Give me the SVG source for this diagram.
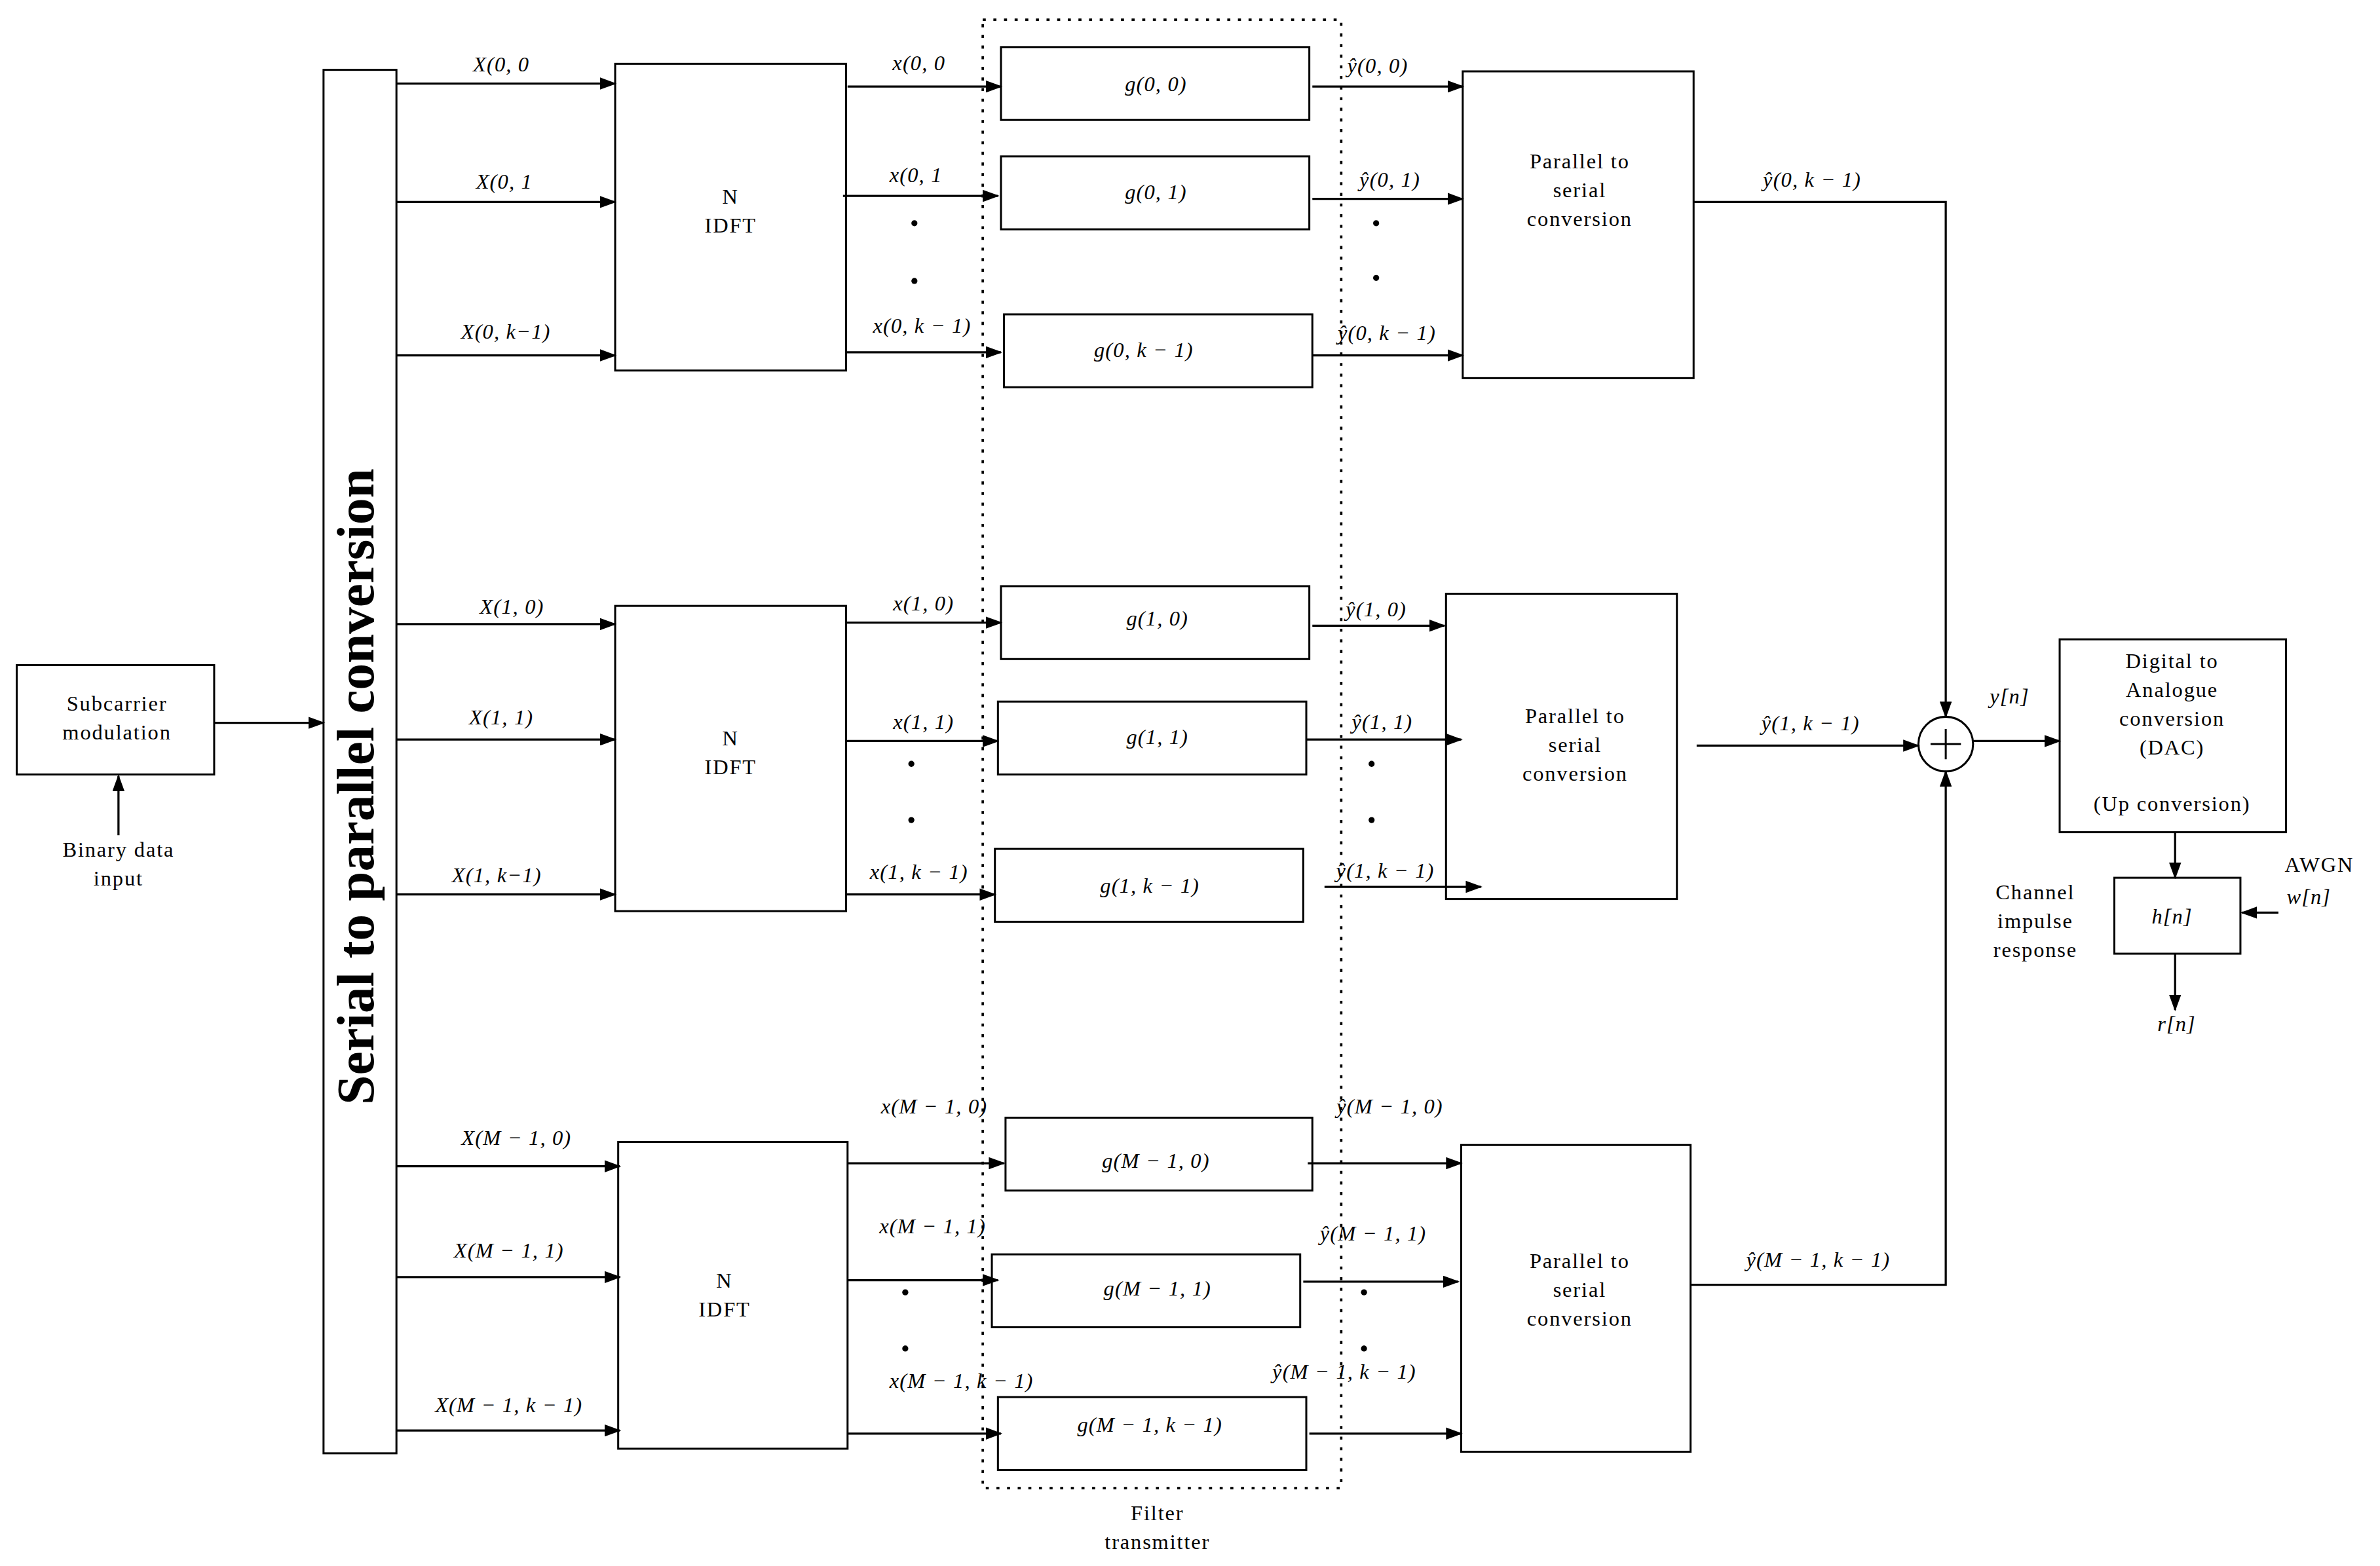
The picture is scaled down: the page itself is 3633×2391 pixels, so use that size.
<svg xmlns="http://www.w3.org/2000/svg" width="3633" height="2391" viewBox="0 0 3633 2391">
<style>
.b{fill:none;stroke:#000;stroke-width:1.3}
.c{fill:none;stroke:#000;stroke-width:1.4}
text{font-family:"Liberation Serif","DejaVu Serif",serif;fill:#000;text-anchor:middle}
.t{font-size:14px;letter-spacing:0.8px}
.m{font-size:14px;font-style:italic;letter-spacing:0.5px}
.d{fill:#000}
</style>
<defs>
<marker id="a" markerUnits="userSpaceOnUse" markerWidth="11" markerHeight="8" refX="10" refY="4" orient="auto"><path d="M0,0 L11,4 L0,8 Z" fill="#000"/></marker>
</defs>
<rect width="3633" height="2391" fill="#fff"/>
<g transform="scale(2.3186)">
<g id="subcarrier"><rect class="b" x="11" y="438" width="130" height="72"/><text class="t" x="77" y="468">Subcarrier</text><text class="t" x="77" y="487">modulation</text></g>
<g id="binary"><text class="t" x="78" y="564">Binary data</text><text class="t" x="78" y="583">input</text></g>
<g id="s2p"><rect class="b" x="213" y="46" width="48" height="911"/><text transform="translate(246,518) rotate(-90)" style="font-size:35px;font-weight:bold">Serial to parallel conversion</text></g>
<g id="idft0"><rect class="b" x="405" y="42" width="152" height="202"/><text class="t" x="481" y="134">N</text><text class="t" x="481" y="153">IDFT</text></g>
<g id="idft1"><rect class="b" x="405" y="399" width="152" height="201"/><text class="t" x="481" y="491">N</text><text class="t" x="481" y="510">IDFT</text></g>
<g id="idft2"><rect class="b" x="407" y="752" width="151" height="202"/><text class="t" x="477" y="848">N</text><text class="t" x="477" y="867">IDFT</text></g>
<g id="filterbank"><rect x="647" y="13" width="236" height="967" fill="none" stroke="#000" stroke-width="1.6" stroke-dasharray="2,5"/><text class="t" x="762" y="1001">Filter</text><text class="t" x="762" y="1020">transmitter</text></g>
<g id="g00"><rect class="b" x="659" y="31" width="203" height="48"/><text class="m" x="761" y="60">g(0, 0)</text></g>
<g id="g01"><rect class="b" x="659" y="103" width="203" height="48"/><text class="m" x="761" y="131">g(0, 1)</text></g>
<g id="g0k"><rect class="b" x="661" y="207" width="203" height="48"/><text class="m" x="753" y="235">g(0, k − 1)</text></g>
<g id="g10"><rect class="b" x="659" y="386" width="203" height="48"/><text class="m" x="762" y="412">g(1, 0)</text></g>
<g id="g11"><rect class="b" x="657" y="462" width="203" height="48"/><text class="m" x="762" y="490">g(1, 1)</text></g>
<g id="g1k"><rect class="b" x="655" y="559" width="203" height="48"/><text class="m" x="757" y="588">g(1, k − 1)</text></g>
<g id="gM0"><rect class="b" x="662" y="736" width="202" height="48"/><text class="m" x="761" y="769">g(M − 1, 0)</text></g>
<g id="gM1"><rect class="b" x="653" y="826" width="203" height="48"/><text class="m" x="762" y="853">g(M − 1, 1)</text></g>
<g id="gMk"><rect class="b" x="657" y="920" width="203" height="48"/><text class="m" x="757" y="943">g(M − 1, k − 1)</text></g>
<g id="p2s0"><rect class="b" x="963" y="47" width="152" height="202"/><text class="t" x="1040" y="111">Parallel to</text><text class="t" x="1040" y="130">serial</text><text class="t" x="1040" y="149">conversion</text></g>
<g id="p2s1"><rect class="b" x="952" y="391" width="152" height="201"/><text class="t" x="1037" y="476">Parallel to</text><text class="t" x="1037" y="495">serial</text><text class="t" x="1037" y="514">conversion</text></g>
<g id="p2s2"><rect class="b" x="962" y="754" width="151" height="202"/><text class="t" x="1040" y="835">Parallel to</text><text class="t" x="1040" y="854">serial</text><text class="t" x="1040" y="873">conversion</text></g>
<g id="sum"><circle class="b" cx="1281" cy="490" r="18"/><path class="b" d="M1281,480V500M1271,490H1291"/></g>
<g id="dac"><rect class="b" x="1356" y="421" width="149" height="127"/><text class="t" x="1430" y="440">Digital to</text><text class="t" x="1430" y="459">Analogue</text><text class="t" x="1430" y="478">conversion</text><text class="t" x="1430" y="497">(DAC)</text><text class="t" x="1430" y="534">(Up conversion)</text></g>
<g id="channel"><rect class="b" x="1392" y="578" width="83" height="50"/><text class="m" x="1430" y="608">h[n]</text><text class="t" x="1340" y="592">Channel</text><text class="t" x="1340" y="611">impulse</text><text class="t" x="1340" y="630">response</text></g>
<g id="awgn"><text class="t" x="1527" y="574">AWGN</text><text class="m" x="1520" y="595">w[n]</text></g>
<g id="out"><text class="m" x="1433" y="679">r[n]</text></g>
<g id="connectors" class="c" marker-end="url(#a)">
<path d="M78,550V511"/>
<path d="M141,476H213"/>
<path d="M261,55H405"/><path d="M261,133H405"/><path d="M261,234H405"/><path d="M261,411H405"/><path d="M261,487H405"/><path d="M261,589H405"/><path d="M261,768H408"/><path d="M261,841H408"/><path d="M261,942H408"/>
<path d="M558,57H659"/><path d="M555,129H657"/><path d="M557,232H659"/><path d="M557,410H659"/><path d="M557,488H657"/><path d="M557,589H655"/><path d="M558,766H661"/><path d="M558,843H657"/><path d="M558,944H659"/>
<path d="M864,57H963"/><path d="M864,131H963"/><path d="M864,234H963"/><path d="M864,412H951"/><path d="M860,487H962"/><path d="M872,584H975"/><path d="M861,766H962"/><path d="M858,844H960"/><path d="M862,944H962"/>
<path d="M1115,133H1281V472"/>
<path d="M1117,491H1263"/>
<path d="M1113,846H1281V508"/>
<path d="M1299,488H1356"/>
<path d="M1432,548V578"/>
<path d="M1500,601H1476"/>
<path d="M1432,628V665"/>
</g>
<g class="d"><circle cx="602" cy="147" r="2"/><circle cx="602" cy="185" r="2"/><circle cx="906" cy="147" r="2"/><circle cx="906" cy="183" r="2"/><circle cx="600" cy="503" r="2"/><circle cx="600" cy="540" r="2"/><circle cx="903" cy="503" r="2"/><circle cx="903" cy="540" r="2"/><circle cx="596" cy="851" r="2"/><circle cx="596" cy="888" r="2"/><circle cx="898" cy="851" r="2"/><circle cx="898" cy="888" r="2"/></g>
<g id="labels">
<text class="m" x="330" y="47">X(0, 0</text><text class="m" x="332" y="124">X(0, 1</text><text class="m" x="333" y="223">X(0, k−1)</text>
<text class="m" x="337" y="404">X(1, 0)</text><text class="m" x="330" y="477">X(1, 1)</text><text class="m" x="327" y="581">X(1, k−1)</text>
<text class="m" x="340" y="754">X(M − 1, 0)</text><text class="m" x="335" y="828">X(M − 1, 1)</text><text class="m" x="335" y="930">X(M − 1, k − 1)</text>
<text class="m" x="605" y="46">x(0, 0</text><text class="m" x="603" y="120">x(0, 1</text><text class="m" x="607" y="219">x(0, k − 1)</text>
<text class="m" x="608" y="402">x(1, 0)</text><text class="m" x="608" y="480">x(1, 1)</text><text class="m" x="605" y="579">x(1, k − 1)</text>
<text class="m" x="615" y="733">x(M − 1, 0)</text><text class="m" x="614" y="812">x(M − 1, 1)</text><text class="m" x="633" y="914">x(M − 1, k − 1)</text>
<text class="m" x="907" y="48">ŷ(0, 0)</text><text class="m" x="915" y="123">ŷ(0, 1)</text><text class="m" x="913" y="224">ŷ(0, k − 1)</text>
<text class="m" x="906" y="406">ŷ(1, 0)</text><text class="m" x="910" y="480">ŷ(1, 1)</text><text class="m" x="912" y="578">ŷ(1, k − 1)</text>
<text class="m" x="915" y="733">ŷ(M − 1, 0)</text><text class="m" x="904" y="817">ŷ(M − 1, 1)</text><text class="m" x="885" y="908">ŷ(M − 1, k − 1)</text>
<text class="m" x="1193" y="123">ŷ(0, k − 1)</text><text class="m" x="1192" y="481">ŷ(1, k − 1)</text><text class="m" x="1197" y="834">ŷ(M − 1, k − 1)</text>
<text class="m" x="1323" y="463">y[n]</text>
</g>
</g>
</svg>
